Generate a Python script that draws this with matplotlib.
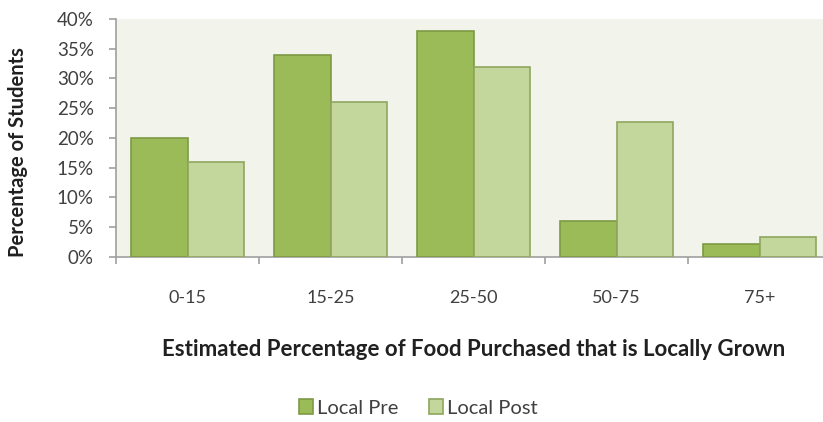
import matplotlib
matplotlib.use("Agg")
import matplotlib.pyplot as plt
import numpy as np
from matplotlib.ticker import FixedLocator, PercentFormatter

categories = ["0-15", "15-25", "25-50", "50-75", "75+"]
local_pre = [20, 34, 38, 6, 2.2]
local_post = [16, 26, 32, 22.7, 3.4]
y_ticks = [0, 5, 10, 15, 20, 25, 30, 35, 40]

plt.rcParams["font.family"] = ["Lato", "DejaVu Sans"]

fig = plt.figure(figsize=(8.23, 4.22), dpi=100)
ax = fig.add_axes([0.141, 0.391, 0.869, 0.564])
ax.set_facecolor("#f2f4ec")

x = np.arange(len(categories))
w = 0.395
ax.bar(x - w / 2, local_pre, w, color="#9bbb59", edgecolor="#7d9a45",
       linewidth=1.2, label="Local Pre", zorder=3)
ax.bar(x + w / 2, local_post, w, color="#c3d69b", edgecolor="#8ea65e",
       linewidth=1.2, label="Local Post", zorder=3)

ax.set_xlim(-0.5, len(categories) - 0.5)
ax.set_ylim(0, 40)
ax.set_yticks(y_ticks)
ax.yaxis.set_major_formatter(PercentFormatter(decimals=0))

ax.set_xticks(x)
ax.set_xticklabels(categories)
ax.xaxis.set_minor_locator(FixedLocator(np.arange(-0.5, len(categories), 1.0)))
ax.tick_params(axis="x", which="major", length=0, pad=24, labelsize=13,
               labelcolor="#404040")
ax.tick_params(axis="x", which="minor", length=5, color="#a0a0a0", width=1.2)
ax.tick_params(axis="y", length=5, color="#a0a0a0", width=1.2, labelsize=13.5,
               labelcolor="#404040", pad=11)

for side in ("top", "right"):
    ax.spines[side].set_visible(False)
for side in ("left", "bottom"):
    ax.spines[side].set_color("#a0a0a0")
    ax.spines[side].set_linewidth(1.2)

fig.text(18 / 823, 1 - 152 / 422, "Percentage of Students", rotation=90,
         ha="center", va="center", fontsize=14.5, fontweight="bold", color="#202020")
fig.text(0.576, 1 - 350 / 422, "Estimated Percentage of Food Purchased that is Locally Grown",
         ha="center", va="center", fontsize=16, fontweight="bold", color="#202020")

leg = fig.legend(loc="center", bbox_to_anchor=(0.508, 1 - 408 / 422), ncol=2,
                 frameon=False, fontsize=14.5, handlelength=0.7, handleheight=0.7,
                 handletextpad=0.2, columnspacing=1.5)
for t in leg.get_texts():
    t.set_color("#404040")

fig.savefig("out.png", dpi=100)
